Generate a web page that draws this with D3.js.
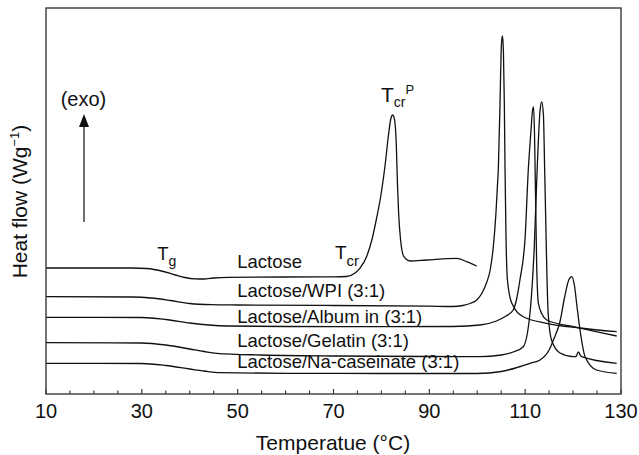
<!DOCTYPE html>
<html>
<head>
<meta charset="utf-8">
<script src="https://cdn.jsdelivr.net/npm/d3@7/dist/d3.min.js"></script>
<style>
  body { margin: 0; background: #fff; }
  svg { display: block; font-family: "Liberation Sans", Arial, Helvetica, sans-serif; }
</style>
</head>
<body>
<div id="chart"></div>
<script>
// DSC thermograms, temperature (°C) vs heat flow (arbitrary offset, W/g)
var lactose = [
  [10, 1.26], [28, 1.26], [31, 1.255], [34.5, 1.225], [37, 1.19], [39, 1.165], [41, 1.152],
  [43, 1.15], [45, 1.16], [48, 1.167], [60, 1.17], [70, 1.172], [72.7, 1.175], [74.5, 1.21],
  [75.5, 1.257], [76.9, 1.373], [78.0, 1.54], [79.0, 1.76], [79.9, 1.99], [80.75, 2.28],
  [81.45, 2.58], [82.0, 2.76], [82.35, 2.79], [82.75, 2.74], [83.1, 2.5], [83.35, 2.1],
  [83.6, 1.8], [84.0, 1.54], [84.7, 1.373], [86.0, 1.33], [89.4, 1.34], [95.7, 1.357],
  [97.8, 1.323], [99.9, 1.28]
];
var wpi = [
  [10, 0.973], [28, 0.97], [32, 0.96], [36, 0.935], [40, 0.905], [44.5, 0.893], [50, 0.89],
  [70, 0.885], [90, 0.878], [94.9, 0.875], [97, 0.885], [98.5, 0.905], [99.9, 0.94],
  [101, 1.01], [102, 1.12], [102.7, 1.24], [103.35, 1.473], [103.9, 1.807], [104.2, 2.073],
  [104.4, 2.25], [104.75, 2.91], [105.05, 3.5], [105.25, 3.58], [105.45, 3.45], [105.65, 2.91],
  [105.8, 2.24], [106.0, 1.573], [106.3, 1.14], [107.2, 0.91], [109.6, 0.773], [114.5, 0.707],
  [121.4, 0.66], [129.1, 0.623]
];
var albumin = [
  [10, 0.767], [30, 0.765], [35, 0.745], [40, 0.71], [44, 0.69], [48, 0.68], [60, 0.675],
  [80, 0.673], [95, 0.675], [100.6, 0.69], [104, 0.73], [106, 0.78], [107.5, 0.84],
  [108.3, 0.97], [108.9, 1.14], [110, 1.573], [110.65, 2.24], [111.15, 2.59], [111.55, 2.84],
  [111.75, 2.87], [111.95, 2.6], [112.1, 2.173], [112.4, 1.3], [112.75, 0.91], [113.5, 0.8],
  [114.5, 0.74], [120.05, 0.673], [129.1, 0.58]
];
var gelatin = [
  [10, 0.513], [30, 0.51], [35, 0.49], [40, 0.45], [43, 0.425], [45.6, 0.407], [55, 0.39],
  [70, 0.38], [90, 0.375], [100.6, 0.373], [105, 0.39], [107.5, 0.42], [109.6, 0.473],
  [111, 0.807], [111.9, 1.473], [112.5, 2.24], [113.1, 2.83], [113.45, 2.92], [113.8, 2.8],
  [114.1, 2.173], [114.8, 0.807], [115.5, 0.54], [117.3, 0.41], [120.05, 0.373], [120.6, 0.375],
  [121.1, 0.42], [121.5, 0.39], [121.8, 0.373], [129.1, 0.307]
];
var caseinate = [
  [10, 0.307], [30, 0.305], [35, 0.285], [40, 0.25], [43, 0.23], [46.3, 0.213], [60, 0.207],
  [80, 0.205], [100, 0.205], [105, 0.225], [108, 0.26], [111, 0.307], [113.1, 0.34],
  [115, 0.44], [115.9, 0.54], [117.3, 0.73], [118.2, 0.96], [119.1, 1.14], [119.7, 1.173],
  [120.3, 1.08], [120.8, 0.88], [121.45, 0.64], [122.5, 0.373], [124.9, 0.24], [129.1, 0.207]
];

var seriesData = [lactose, wpi, albumin, gelatin, caseinate];
var seriesLabels = ["Lactose", "Lactose/WPI (3:1)", "Lactose/Album in (3:1)",
                    "Lactose/Gelatin (3:1)", "Lactose/Na-caseinate (3:1)"];
var labelBase = [1.265, 0.97, 0.71, 0.473, 0.26];   // baseline heat-flow of each label
var majorTicks = [10, 30, 50, 70, 90, 110, 130];
var minorTicks = d3.range(10, 131, 5);

var width = 639, height = 455;
var x = d3.scaleLinear().domain([10, 130]).range([46, 621]);
var y = d3.scaleLinear().domain([0, 3.86]).range([394, 8]);

var svg = d3.select("#chart").append("svg")
    .attr("width", width)
    .attr("height", height);

var ink = "#111";

// curves
var line = d3.line()
    .x(function (d) { return x(d[0]); })
    .y(function (d) { return y(d[1]); })
    .curve(d3.curveMonotoneX);

svg.selectAll("path.trace")
    .data(seriesData)
    .enter().append("path")
    .attr("class", "trace")
    .attr("d", line)
    .attr("fill", "none")
    .attr("stroke", ink)
    .attr("stroke-width", 1.3)
    .attr("stroke-linejoin", "round");

// frame
svg.append("rect")
    .attr("x", x(10)).attr("y", y(3.86))
    .attr("width", x(130) - x(10)).attr("height", y(0) - y(3.86))
    .attr("fill", "none")
    .attr("stroke", "#3a3a3a")
    .attr("stroke-width", 1.4);

// inward ticks on bottom
svg.selectAll("line.minor")
    .data(minorTicks)
    .enter().append("line")
    .attr("x1", function (d) { return x(d); })
    .attr("x2", function (d) { return x(d); })
    .attr("y1", y(0))
    .attr("y2", function (d) { return majorTicks.indexOf(d) >= 0 ? y(0) - 5 : y(0) - 3.5; })
    .attr("stroke", "#3a3a3a")
    .attr("stroke-width", 1.2);

svg.selectAll("text.tick")
    .data(majorTicks)
    .enter().append("text")
    .attr("x", function (d) { return x(d); })
    .attr("y", 418)
    .attr("text-anchor", "middle")
    .attr("font-size", 20)
    .attr("fill", ink)
    .text(function (d) { return d; });

// axis titles
svg.append("text")
    .attr("x", 333)
    .attr("y", 450)
    .attr("text-anchor", "middle")
    .attr("font-size", 21)
    .attr("fill", ink)
    .text("Temperatue (°C)");

var yt = svg.append("text")
    .attr("transform", "translate(26.5,201.5) rotate(-90)")
    .attr("text-anchor", "middle")
    .attr("font-size", 21)
    .attr("fill", ink);
yt.append("tspan").text("Heat flow (Wg");
yt.append("tspan").attr("font-size", 13).attr("dy", -8).text("−1");
yt.append("tspan").attr("dy", 8).text(")");

// series labels
svg.selectAll("text.series")
    .data(seriesLabels)
    .enter().append("text")
    .attr("class", "series")
    .attr("x", x(49.9))
    .attr("y", function (d, i) { return y(labelBase[i]); })
    .attr("font-size", 18.5)
    .attr("fill", ink)
    .text(function (d) { return d; });

// Tg
var tg = svg.append("text").attr("x", x(33.2)).attr("y", y(1.34)).attr("fill", ink).attr("font-size", 18.5);
tg.append("tspan").text("T");
tg.append("tspan").attr("font-size", 14).attr("dy", 6).text("g");

// Tcr
var tcr = svg.append("text").attr("x", x(70.3)).attr("y", y(1.347)).attr("fill", ink).attr("font-size", 19);
tcr.append("tspan").text("T");
tcr.append("tspan").attr("font-size", 15).attr("dy", 7).text("cr");

// Tcr peak
var tcp = svg.append("text").attr("x", x(79.9)).attr("y", y(2.917)).attr("fill", ink).attr("font-size", 21);
tcp.append("tspan").text("T");
tcp.append("tspan").attr("font-size", 14).attr("dy", 5).text("cr");
tcp.append("tspan").attr("font-size", 13).attr("dy", -13).text("P");

// exo arrow
var ax = 84;
svg.append("line")
    .attr("x1", ax).attr("x2", ax)
    .attr("y1", 222).attr("y2", 126)
    .attr("stroke", "#333").attr("stroke-width", 1.4);
svg.append("path")
    .attr("d", "M" + ax + ",114L" + (ax - 5) + ",127L" + (ax + 5) + ",127Z")
    .attr("fill", "#111");
svg.append("text")
    .attr("x", 83.5).attr("y", 106)
    .attr("text-anchor", "middle")
    .attr("font-size", 20)
    .attr("fill", ink)
    .text("(exo)");
</script>
</body>
</html>
